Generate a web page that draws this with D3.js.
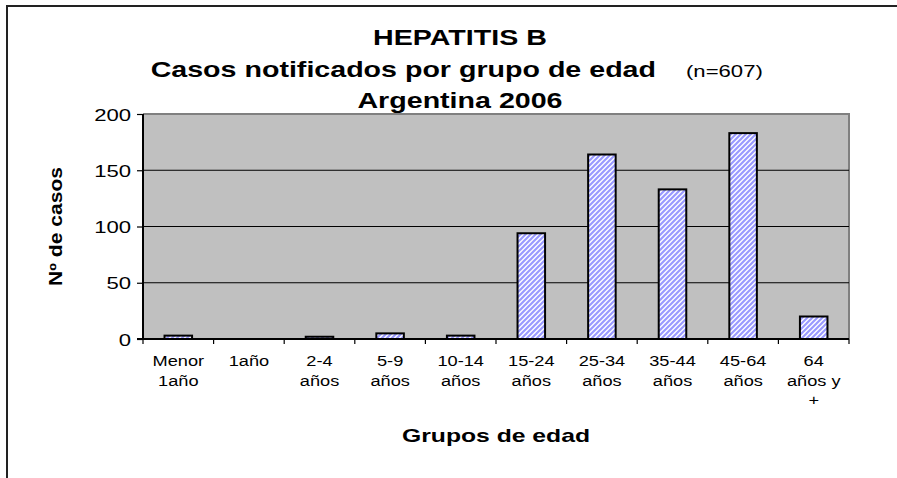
<!DOCTYPE html>
<html>
<head>
<meta charset="utf-8">
<script src="https://cdn.jsdelivr.net/npm/d3@7"></script>
<style>
  html, body { margin: 0; padding: 0; background: #ffffff; }
  svg { display: block; }
  text { font-family: Arial, "Liberation Sans", sans-serif; fill: #000; }
</style>
</head>
<body>
<svg id="chart" width="897" height="478"></svg>
<script>
// ---- data ----
const categories = ["Menor 1año", "1año", "2-4 años", "5-9 años", "10-14 años",
                    "15-24 años", "25-34 años", "35-44 años", "45-64 años", "64 años y +"];
const categoryLines = [["Menor", "1año"], ["1año"], ["2-4", "años"], ["5-9", "años"], ["10-14", "años"],
                       ["15-24", "años"], ["25-34", "años"], ["35-44", "años"], ["45-64", "años"], ["64", "años y", "+"]];
const casos = [3, 0, 2, 5, 3, 94, 164, 133, 183, 20];
const yTicks = [0, 50, 100, 150, 200];
const titleLines = ["HEPATITIS B", "Casos notificados por grupo de edad", "Argentina 2006"];
const nLabel = "(n=607)";
const xTitle = "Grupos de edad";
const yTitle = "Nº de casos";

// ---- layout ----
const W = 897, H = 478;
const plot = { left: 143, right: 849, top: 114, bottom: 339 };
const STRETCH = 1.3;

const svg = d3.select("#chart");

function stretch(sel, f) {
  sel.each(function () {
    const l = this.getComputedTextLength();
    d3.select(this).attr("textLength", l * f).attr("lengthAdjust", "spacingAndGlyphs");
  });
}

// pattern
const defs = svg.append("defs");
const P = 5;
const pat = defs.append("pattern").attr("id", "hatch").attr("patternUnits", "userSpaceOnUse")
  .attr("width", P).attr("height", P);
pat.append("rect").attr("width", P).attr("height", P).attr("fill", "#ffffff");
pat.append("path").attr("d", `M-1,1 l2,-2 M0,${P} l${P},-${P} M${P - 1},${P + 1} l2,-2`)
  .attr("stroke", "#9999ff").attr("stroke-width", 2.2);

// outer frame (top and left)
svg.append("path").attr("d", `M7,${H} L7,6 L${W},6`).attr("fill", "none")
  .attr("stroke", "#222").attr("stroke-width", 2);

// scales
const x = d3.scaleBand().domain(categories).range([plot.left, plot.right])
  .paddingInner(0.61).paddingOuter(0.305);
const xb = d3.scaleBand().domain(categories).range([plot.left, plot.right]).padding(0);
const y = d3.scaleLinear().domain([0, 200]).range([plot.bottom, plot.top]);

// plot area
svg.append("rect").attr("x", plot.left).attr("y", plot.top)
  .attr("width", plot.right - plot.left).attr("height", plot.bottom - plot.top)
  .attr("fill", "#c0c0c0");
svg.append("path").attr("d", `M${plot.left},${plot.top} L${plot.right},${plot.top} L${plot.right},${plot.bottom}`)
  .attr("fill", "none").attr("stroke", "#808080").attr("stroke-width", 2);

// gridlines
svg.append("g").selectAll("line").data(yTicks.filter(t => t > 0 && t < 200)).join("line")
  .attr("x1", plot.left).attr("x2", plot.right)
  .attr("y1", d => y(d)).attr("y2", d => y(d))
  .attr("stroke", "#000").attr("stroke-width", 1);

// bars
svg.append("g").selectAll("rect").data(casos.map((v, i) => ({ c: categories[i], v })).filter(d => d.v > 0))
  .join("rect")
  .attr("x", d => x(d.c)).attr("width", x.bandwidth())
  .attr("y", d => y(d.v)).attr("height", d => y(0) - y(d.v))
  .attr("fill", "url(#hatch)").attr("stroke", "#000").attr("stroke-width", 2);

// y axis
const yAxis = svg.append("g").attr("transform", `translate(${plot.left},0)`)
  .call(d3.axisLeft(y).tickValues(yTicks).tickSize(6).tickPadding(6));
yAxis.select(".domain").attr("stroke", "#000").attr("stroke-width", 2)
  .attr("d", `M0,${plot.top}V${plot.bottom}`);
yAxis.selectAll(".tick line").attr("stroke", "#000").attr("stroke-width", 1.2);
yAxis.selectAll(".tick text").attr("font-size", 17).attr("font-family", "Arial, 'Liberation Sans', sans-serif")
  .attr("fill", "#000").attr("dy", "0.36em");
stretch(yAxis.selectAll(".tick text"), STRETCH);

// x axis line + boundary ticks
const xAxis = svg.append("g").attr("transform", `translate(0,${plot.bottom})`)
  .call(d3.axisBottom(x).tickSize(0).tickFormat(""));
xAxis.select(".domain").remove();
svg.append("line").attr("x1", plot.left - 6).attr("x2", plot.right).attr("y1", plot.bottom).attr("y2", plot.bottom)
  .attr("stroke", "#000").attr("stroke-width", 2);
const bounds = categories.map(c => xb(c)).concat([plot.right]);
svg.append("g").selectAll("line").data(bounds).join("line")
  .attr("x1", d => d).attr("x2", d => d).attr("y1", plot.bottom).attr("y2", plot.bottom + 5)
  .attr("stroke", "#000").attr("stroke-width", 1.2);

xAxis.selectAll(".tick").each(function (d, i) {
  const g = d3.select(this);
  categoryLines[i].forEach((ln, j) => {
    g.append("text").attr("y", 27 + j * 19.5).attr("text-anchor", "middle")
      .attr("font-size", 14).attr("fill", "#000").text(ln);
  });
});
stretch(xAxis.selectAll(".tick text"), STRETCH);

// titles
const t1 = svg.append("text").attr("x", 460).attr("y", 45).attr("text-anchor", "middle")
  .attr("font-size", 22).attr("font-weight", "bold").text(titleLines[0]);
const t2 = svg.append("text").attr("x", 656).attr("y", 77).attr("text-anchor", "end")
  .attr("font-size", 22).attr("font-weight", "bold").text(titleLines[1]);
const t2n = svg.append("text").attr("x", 686).attr("y", 77).attr("text-anchor", "start")
  .attr("font-size", 17).text(nLabel);
const t3 = svg.append("text").attr("x", 460).attr("y", 108).attr("text-anchor", "middle")
  .attr("font-size", 22).attr("font-weight", "bold").text(titleLines[2]);
[t1, t2, t2n, t3].forEach(t => stretch(t, STRETCH));

// axis titles
const xt = svg.append("text").attr("x", (plot.left + plot.right) / 2).attr("y", 442)
  .attr("text-anchor", "middle").attr("font-size", 19).attr("font-weight", "bold").text(xTitle);
stretch(xt, STRETCH);
const yt = svg.append("text").attr("transform", `translate(62,${(plot.top + plot.bottom) / 2}) rotate(-90)`)
  .attr("text-anchor", "middle").attr("font-size", 18).attr("font-weight", "bold").text(yTitle);
stretch(yt, 1.17);
</script>
</body>
</html>
